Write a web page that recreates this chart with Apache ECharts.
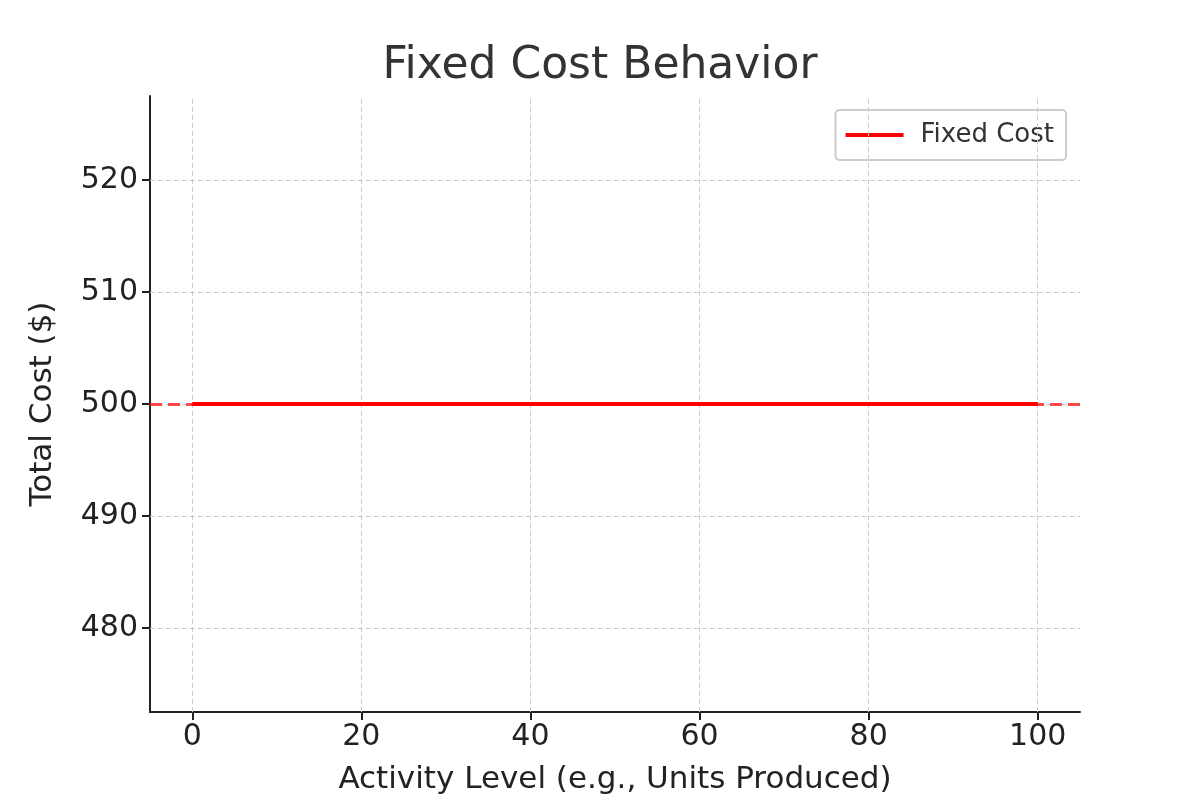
<!DOCTYPE html>
<html>
<head>
<meta charset="utf-8">
<script src="https://cdn.jsdelivr.net/npm/echarts@6/dist/echarts.min.js"></script>
<style>html,body{margin:0;padding:0;background:#fff}#main{width:1200px;height:800px}</style>
</head>
<body>
<div id="main"></div>
<script>
var activity = [0, 100];
var fixedCost = [500, 500];
var xTicks = [0, 20, 40, 60, 80, 100];
var yTicks = [480, 490, 500, 510, 520];
var fixedLevel = 500;

var chart = echarts.init(document.getElementById("main"));
var font = "DejaVu Sans";
var gridLine = {color: '#cccccc', type: [5, 3], width: 1};
var guides = [];
for (var i = 0; i < xTicks.length; i++) guides.push({xAxis: xTicks[i], lineStyle: gridLine});
for (var j = 0; j < yTicks.length; j++) guides.push({yAxis: yTicks[j], lineStyle: gridLine});
guides.push({yAxis: fixedLevel, lineStyle: {color: 'rgba(255,0,0,0.7)', type: [12, 6], width: 3}});

var points = [];
for (var k = 0; k < activity.length; k++) points.push([activity[k], fixedCost[k]]);

chart.setOption({
  animation: false,
  title: {text: 'Fixed Cost Behavior', left: 'center', top: 40,
    textStyle: {fontFamily: font, fontSize: 44, fontWeight: 'normal', color: '#333'}},
  legend: {right: 134, top: 110, padding: [12, 12, 12, 10], borderColor: '#cccccc', borderWidth: 2, borderRadius: 4,
    itemWidth: 58, itemHeight: 4, itemGap: 10,
    textStyle: {fontFamily: font, fontSize: 26, color: '#333', padding: [0, 0, 0, 12]},
    data: [{name: 'Fixed Cost', icon: 'rect'}]},
  grid: {left: 150, right: 120, top: 96, bottom: 88},
  xAxis: {type: 'value', min: -5, max: 105,
    name: 'Activity Level (e.g., Units Produced)', nameLocation: 'middle', nameGap: 52,
    nameTextStyle: {fontFamily: font, fontSize: 31, color: '#222'},
    axisLine: {onZero: false, lineStyle: {color: '#222', width: 2}},
    axisTick: {customValues: xTicks, length: 8, lineStyle: {color: '#222', width: 2}},
    axisLabel: {customValues: xTicks, fontFamily: font, fontSize: 30, color: '#222', margin: 10},
    splitLine: {show: false}},
  yAxis: {type: 'value', min: 472.5, max: 527.5,
    name: 'Total Cost ($)', nameLocation: 'middle', nameGap: 92,
    nameTextStyle: {fontFamily: font, fontSize: 31, color: '#222'},
    axisLine: {show: true, onZero: false, lineStyle: {color: '#222', width: 2}},
    axisTick: {show: true, customValues: yTicks, length: 8, lineStyle: {color: '#222', width: 2}},
    axisLabel: {customValues: yTicks, fontFamily: font, fontSize: 30, color: '#222', margin: 12},
    splitLine: {show: false}},
  series: [
    {type: 'line', silent: true, data: [], markLine: {silent: true, symbol: 'none', label: {show: false}, data: guides}},
    {name: 'Fixed Cost', type: 'line', showSymbol: false, data: points, z: 5,
     lineStyle: {color: '#ff0000', width: 4}, itemStyle: {color: '#ff0000'}}
  ]
});
</script>
</body>
</html>
